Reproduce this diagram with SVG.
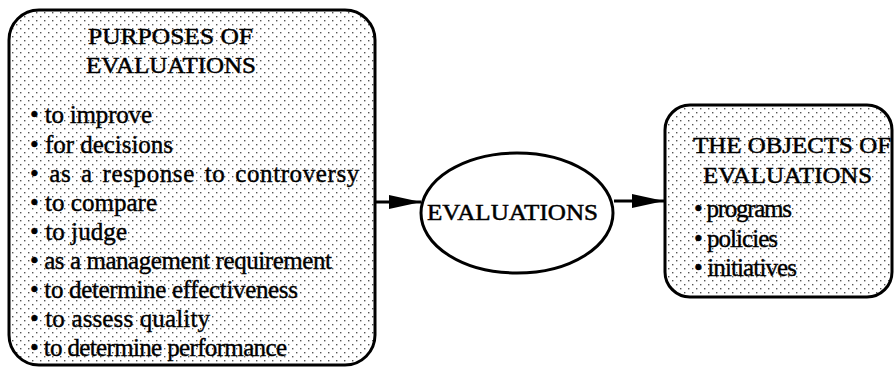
<svg xmlns="http://www.w3.org/2000/svg" width="894" height="367" viewBox="0 0 894 367">
<defs>
<pattern id="dots" width="8" height="8" patternUnits="userSpaceOnUse">
<rect width="8" height="8" fill="#ffffff"/>
<rect x="0" y="0" width="1.4" height="1.4" fill="#555"/>
<rect x="4" y="4" width="1.4" height="1.4" fill="#555"/>
</pattern>
<marker id="arrow" markerWidth="32" markerHeight="14" refX="32" refY="7" orient="auto" markerUnits="userSpaceOnUse">
<path d="M0,0 L32,7 L0,14 Z" fill="#000"/>
</marker>
</defs>
<style>
.box{fill:url(#dots);stroke:#000;stroke-width:3}
.ell{fill:#fff;stroke:#000;stroke-width:3}
.t{font-family:"Liberation Serif","Times New Roman",serif;font-size:25px;fill:#000;stroke:#000;stroke-width:0.4}
.h{font-family:"Liberation Serif","Times New Roman",serif;font-size:23px;fill:#000;stroke:#000;stroke-width:0.5}
.conn{stroke:#000;stroke-width:3;fill:none}
</style>
<g id="purposes">
<rect class="box" x="9" y="10" width="366" height="355" rx="30" ry="30"/>
<text class="h" x="88" y="44" textLength="165" lengthAdjust="spacingAndGlyphs">PURPOSES OF</text>
<text class="h" x="86" y="73" textLength="170" lengthAdjust="spacingAndGlyphs">EVALUATIONS</text>
<text class="t" x="30" y="123" textLength="122" lengthAdjust="spacing">• to improve</text>
<text class="t" x="30" y="153" textLength="143" lengthAdjust="spacing">• for decisions</text>
<text class="t" x="30" y="182" word-spacing="3" letter-spacing="0.6">• as a response to controversy</text>
<text class="t" x="30" y="211" textLength="127" lengthAdjust="spacing">• to compare</text>
<text class="t" x="30" y="240" textLength="97" lengthAdjust="spacing">• to judge</text>
<text class="t" x="30" y="269" textLength="302" lengthAdjust="spacing">• as a management requirement</text>
<text class="t" x="30" y="298" textLength="268" lengthAdjust="spacing">• to determine effectiveness</text>
<text class="t" x="30" y="327" textLength="180" lengthAdjust="spacing">• to assess quality</text>
<text class="t" x="30" y="356" textLength="257" lengthAdjust="spacing">• to determine performance</text>
</g>
<g id="evaluations">
<ellipse class="ell" cx="517" cy="213" rx="96" ry="60"/>
<text class="h" x="427" y="220" textLength="171" lengthAdjust="spacingAndGlyphs">EVALUATIONS</text>
</g>
<g id="objects">
<rect class="box" x="665" y="105" width="227" height="192" rx="25" ry="25"/>
<text class="h" x="693" y="153" textLength="198" lengthAdjust="spacingAndGlyphs">THE OBJECTS OF</text>
<text class="h" x="703" y="183" textLength="169" lengthAdjust="spacingAndGlyphs">EVALUATIONS</text>
<text class="t" x="694" y="217" textLength="98" lengthAdjust="spacing">• programs</text>
<text class="t" x="694" y="247" textLength="84" lengthAdjust="spacing">• policies</text>
<text class="t" x="694" y="276" textLength="103" lengthAdjust="spacing">• initiatives</text>
</g>
<g id="connectors">
<line class="conn" x1="375" y1="202" x2="421" y2="202" marker-end="url(#arrow)"/>
<line class="conn" x1="614" y1="201" x2="664" y2="201" marker-end="url(#arrow)"/>
</g>
</svg>
